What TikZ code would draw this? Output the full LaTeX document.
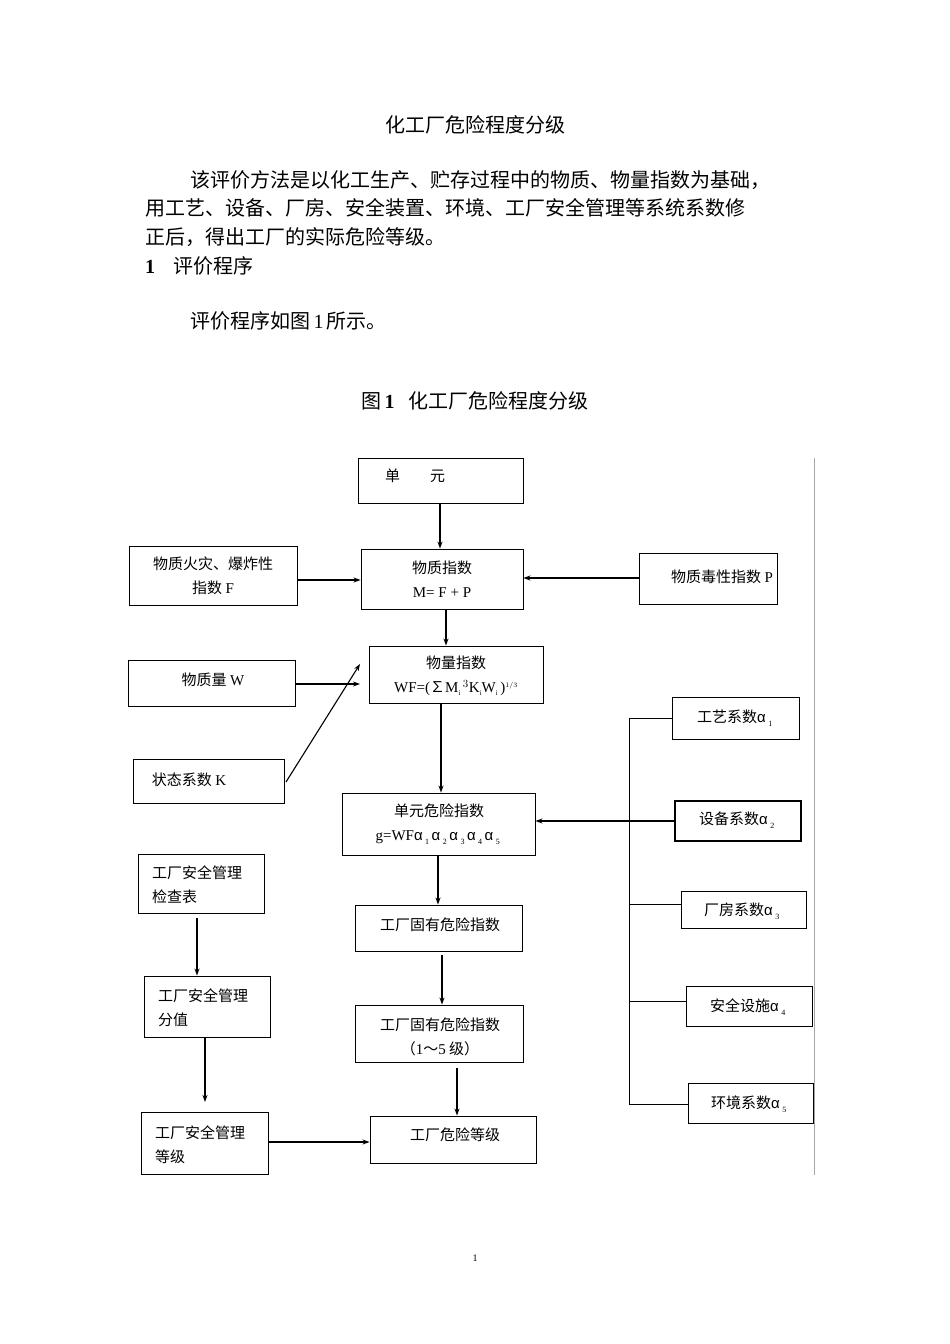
\documentclass[tikz,border=0pt]{standalone}
\usepackage{fontspec}
\setmainfont{Liberation Serif}
\newfontfamily\cjk{Noto Sans CJK SC}
\newfontfamily\sansf{Liberation Sans}
\usetikzlibrary{calc,arrows.meta}
\newcommand{\al}[1]{{\sansf α}\,\raisebox{-4pt}{\footnotesize\rmfamily #1}\,}
\newcommand{\sbi}{\raisebox{-3pt}{\scriptsize i}}
\tikzset{
  box/.style={draw,line width=0.9pt,inner sep=0pt},
  arr/.style={-{Stealth[length=7pt,width=5pt]},line width=1.1pt},
  ln/.style={line width=0.9pt},
  lbl/.style={font=\fontsize{15}{24}\selectfont\cjk,align=center,inner sep=0pt},
  txt/.style={font=\fontsize{20}{26}\selectfont\cjk,anchor=west,inner sep=0pt}
}
\newcommand{\bx}[5]{\node[box,minimum width={(#4-#2)*1pt},minimum height={(#5-#3)*1pt}] (#1) at ({(#2+#4)/2},{(#3+#5)/2}) {};}
\begin{document}
\begin{tikzpicture}[x=1pt,y=-1pt]
\useasboundingbox (0,0) rectangle (950,1344);
% text
\node[font=\fontsize{20}{24}\selectfont\cjk] (t0) at (475,125) {化工厂危险程度分级};
\node[txt] (t1) at (190,180) {该评价方法是以化工生产、贮存过程中的物质、物量指数为基础，};
\node[txt] (t2) at (145,208) {用工艺、设备、厂房、安全装置、环境、工厂安全管理等系统系数修};
\node[txt] (t3) at (145,237) {正后，得出工厂的实际危险等级。};
\node[txt] (t4) at (145,266) {\textbf{\rmfamily 1}\hspace{18pt}评价程序};
\node[txt] (t5) at (190,321) {评价程序如图{\rmfamily\,1\,}所示。};
\node[font=\fontsize{20}{24}\selectfont\cjk] (t6) at (475,401) {图{\rmfamily\bfseries\,1}\hspace{14pt}化工厂危险程度分级};
\node[font=\normalsize] (pg) at (475,1258) {1};
% boxes
\bx{dy}{358}{458}{523}{503}
\bx{hz}{129}{546}{297}{605}
\bx{wz}{361}{549}{523}{609}
\bx{dx}{639}{553}{777}{604}
\bx{wl}{128}{660}{295}{706}
\bx{wlz}{369}{646}{543}{703}
\bx{zt}{133}{759}{284}{803}
\bx{dw}{342}{793}{535}{855}
\bx{gy}{672}{697}{799}{739}
\node[box,line width=1.6pt,minimum width=126pt,minimum height=40pt] (sb) at (738,821) {};
\bx{cf}{681}{891}{806}{928}
\bx{aq}{686}{986}{812}{1026}
\bx{hj}{688}{1083}{813}{1123}
\bx{jc}{138}{854}{264}{913}
\bx{gg}{355}{905}{522}{951}
\bx{fz}{144}{976}{270}{1037}
\bx{gj}{355}{1005}{523}{1062}
\bx{dj}{141}{1112}{268}{1174}
\bx{wx}{370}{1116}{536}{1163}
% labels
\node[lbl] at (415,476) {单\hspace{30pt}元};
\node[lbl] at (213,576) {物质火灾、爆炸性\\指数 {\rmfamily F}};
\node[lbl] at (442,579) {物质指数\\{\rmfamily M= F + P}};
\node[lbl] at (722,577) {物质毒性指数 {\rmfamily P}};
\node[lbl] at (213,680) {物质量 {\rmfamily W}};
\node[lbl] at (456,676) {物量指数\\{\rmfamily WF=(}∑{\rmfamily M\sbi\,$^{3}$K\sbi W\sbi\,)$^{\scriptscriptstyle 1/3}$}};
\node[lbl] at (189,780) {状态系数 {\rmfamily K}};
\node[lbl] at (439,824) {单元危险指数\\{\rmfamily g=WF}\al1\al2\al3\al4\al{5}};
\node[lbl] at (736,718) {工艺系数\al1};
\node[lbl] at (738,820) {设备系数\al2};
\node[lbl] at (743,911) {厂房系数\al3};
\node[lbl] at (749,1007) {安全设施\al4};
\node[lbl] at (750,1104) {环境系数\al5};
\node[lbl,align=left,anchor=west] at (152,885) {工厂安全管理\\检查表};
\node[lbl] at (440,925) {工厂固有危险指数};
\node[lbl,align=left,anchor=west] at (158,1008) {工厂安全管理\\分值};
\node[lbl] at (440,1037) {工厂固有危险指数\\（{\rmfamily 1}～{\rmfamily 5} 级）};
\node[lbl,align=left,anchor=west] at (155,1145) {工厂安全管理\\等级};
\node[lbl] at (455,1135) {工厂危险等级};
% helper coordinates
\coordinate (x440) at (440,0); \coordinate (x446) at (446,0);
\coordinate (x441) at (441,0); \coordinate (x438) at (438,0);
\coordinate (x442) at (442,0); \coordinate (x457) at (457,0);
\coordinate (x197) at (197,0); \coordinate (x205) at (205,0);
\coordinate (y580) at (0,580); \coordinate (y578) at (0,578);
\coordinate (y684) at (0,684); \coordinate (y1142) at (0,1142);
\coordinate (y718) at (0,718); \coordinate (y904) at (0,904);
\coordinate (y1001) at (0,1001); \coordinate (y1104) at (0,1104);
\coordinate (k1) at (286,782); \coordinate (k2) at (360,664);
\coordinate (w2) at (360,684);
\coordinate (g1) at (442,955); \coordinate (g2) at (457,1068);
\coordinate (f1) at (197,918); \coordinate (f2) at (205,1102);
\coordinate (b1) at (629,718); \coordinate (b2) at (629,1104);
\coordinate (v1) at (814,458); \coordinate (v2) at (814,1175);
% arrows
\draw[arr] (dy.south -| x440) -- (wz.north -| x440);
\draw[arr] (hz.east |- y580) -- (wz.west |- y580);
\draw[arr] (dx.west |- y578) -- (wz.east |- y578);
\draw[arr] (wz.south -| x446) -- (wlz.north -| x446);
\draw[arr] (wl.east |- y684) -- (w2);
\draw[arr] (k1) -- (k2);
\draw[arr] (wlz.south -| x441) -- (dw.north -| x441);
\draw[arr] (dw.south -| x438) -- (gg.north -| x438);
\draw[arr] (g1) -- (gj.north -| x442);
\draw[arr] (g2) -- (wx.north -| x457);
\draw[arr] (f1) -- (fz.north -| x197);
\draw[arr] (fz.south -| x205) -- (f2);
\draw[arr] (dj.east |- y1142) -- (wx.west |- y1142);
\draw[arr] (sb.west) -- (dw.east |- sb.west);
% bracket
\draw[ln] (b1) -- (b2);
\draw[ln] (b1) -- (gy.west |- y718);
\draw[ln] (b1 |- y904) -- (cf.west |- y904);
\draw[ln] (b1 |- y1001) -- (aq.west |- y1001);
\draw[ln] (b2) -- (hj.west |- y1104);
\draw[gray!70,line width=1pt] (v1) -- (v2);
\end{tikzpicture}
\end{document}
